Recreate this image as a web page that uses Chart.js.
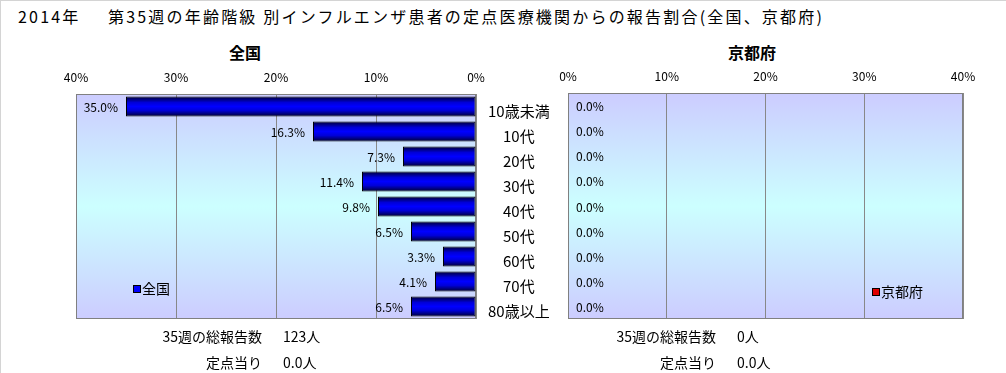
<!DOCTYPE html>
<html lang="ja">
<head>
<meta charset="utf-8">
<script src="https://cdn.jsdelivr.net/npm/chart.js@4/dist/chart.umd.min.js"></script>
<style>
  body { margin: 0; background: #fff; font-family: "Noto Sans CJK JP", sans-serif; color: #000; }
  #page { position: relative; width: 1005px; height: 372px; border-top: 1px solid #d4d4d4; border-left: 1px solid #d4d4d4; overflow: hidden; }
  .abs { position: absolute; white-space: nowrap; }
  .title { font-size: 16px; letter-spacing: 2.2px; top: 3px; }
  .sub { font-size: 16px; font-weight: bold; top: 39px; transform: translateX(-50%); }
  .lbl { font-size: 14px; text-align: right; width: 200px; }
  .val { font-size: 14px; }
  .legend { font-size: 14px; }
  .sq { display: inline-block; width: 6px; height: 6px; border: 1px solid #000; margin-right: 1px; vertical-align: 1px; }
  canvas { position: absolute; }
</style>
</head>
<body>
<div id="page">
  <div class="abs title" style="left:17px">2014年</div>
  <div class="abs title" style="left:107px">第35週の年齢階級 別インフルエンザ患者の定点医療機関からの報告割合(全国、京都府)</div>
  <div class="abs sub" style="left:244px">全国</div>
  <div class="abs sub" style="left:751px">京都府</div>

  <canvas id="chartZenkoku" width="570" height="265" style="left:-1px;top:59px"></canvas>
  <canvas id="chartKyoto" width="526" height="266" style="left:479px;top:58px"></canvas>

  <div class="abs legend" style="left:132px;top:277px"><span class="sq" style="background:#0000ff"></span>全国</div>
  <div class="abs legend" style="left:871px;top:280px"><span class="sq" style="background:#e00000"></span>京都府</div>

  <div class="abs lbl" style="left:61px;top:325px" id="l1a"></div>
  <div class="abs val" style="left:282px;top:325px" id="v1a"></div>
  <div class="abs lbl" style="left:61px;top:351px" id="l1b"></div>
  <div class="abs val" style="left:282px;top:351px" id="v1b"></div>
  <div class="abs lbl" style="left:515px;top:325px" id="l2a"></div>
  <div class="abs val" style="left:736px;top:325px" id="v2a"></div>
  <div class="abs lbl" style="left:515px;top:351px" id="l2b"></div>
  <div class="abs val" style="left:736px;top:351px" id="v2b"></div>
</div>
<script>
// 年齢階級
const ageGroups = ['10歳未満', '10代', '20代', '30代', '40代', '50代', '60代', '70代', '80歳以上'];
// 報告割合 (%)
const zenkokuShare = [35.0, 16.3, 7.3, 11.4, 9.8, 6.5, 3.3, 4.1, 6.5];
const kyotoShare = [0.0, 0.0, 0.0, 0.0, 0.0, 0.0, 0.0, 0.0, 0.0];
// 目盛り (%)
const axisTicks = [0, 10, 20, 30, 40];
// 集計欄
const summaryLabels = ['35週の総報告数', '定点当り'];
const zenkokuSummary = ['123人', '0.0人'];
const kyotoSummary = ['0人', '0.0人'];

Chart.defaults.font.family = '"Noto Sans CJK JP", sans-serif';
Chart.defaults.color = '#000';

document.getElementById('l1a').textContent = summaryLabels[0];
document.getElementById('l1b').textContent = summaryLabels[1];
document.getElementById('l2a').textContent = summaryLabels[0];
document.getElementById('l2b').textContent = summaryLabels[1];
document.getElementById('v1a').textContent = zenkokuSummary[0];
document.getElementById('v1b').textContent = zenkokuSummary[1];
document.getElementById('v2a').textContent = kyotoSummary[0];
document.getElementById('v2b').textContent = kyotoSummary[1];

// 棒の縦グラデーション (上下が暗く中央が明るい)
function barFill(dark, mid, light) {
    return function (context) {
        const chart = context.chart;
        const y = chart.scales.y;
        if (!y || context.type !== 'data') return light;
        const c = y.getPixelForValue(context.dataIndex);
        const half = Math.abs(y.getPixelForValue(1) - y.getPixelForValue(0)) * 0.4;
        if (!isFinite(c) || !isFinite(half) || half === 0) return light;
        const g = chart.ctx.createLinearGradient(0, c - half, 0, c + half);
        g.addColorStop(0, dark);
        g.addColorStop(0.3, mid);
        g.addColorStop(0.5, light);
        g.addColorStop(0.7, mid);
        g.addColorStop(1, dark);
        return g;
    };
}

// プロットエリアの背景と枠
const plotArea = {
    id: 'plotArea',
    beforeDraw(chart) {
        const { ctx, chartArea: a } = chart;
        const g = ctx.createLinearGradient(0, a.top, 0, a.bottom);
        g.addColorStop(0, '#ccccff');
        g.addColorStop(0.5, '#ccffff');
        g.addColorStop(1, '#ccccff');
        ctx.save();
        ctx.fillStyle = g;
        ctx.fillRect(a.left, a.top, a.right - a.left, a.bottom - a.top);
        ctx.restore();
    },
    beforeDatasetsDraw(chart) {
        const { ctx, chartArea: a } = chart;
        ctx.save();
        ctx.strokeStyle = '#808080';
        ctx.lineWidth = 1;
        ctx.strokeRect(Math.round(a.left) + 0.5, Math.round(a.top) + 0.5,
            Math.round(a.right - a.left) - 1, Math.round(a.bottom - a.top) - 1);
        ctx.restore();
    }
};

// 値ラベル
const valueLabels = {
    id: 'valueLabels',
    afterDatasetsDraw(chart) {
        const { ctx } = chart;
        const rev = chart.scales.x.options.reverse;
        const values = chart.data.datasets[0].data;
        ctx.save();
        ctx.font = '12px "Noto Sans CJK JP"';
        ctx.fillStyle = '#000';
        ctx.textBaseline = 'middle';
        ctx.textAlign = rev ? 'right' : 'left';
        chart.getDatasetMeta(0).data.forEach((bar, i) => {
            ctx.fillText(values[i].toFixed(1) + '%', bar.x + (rev ? -8 : 8), bar.y + 1);
        });
        ctx.restore();
    }
};

function makeChart(id, label, data, fill, reverse, padding) {
    return new Chart(document.getElementById(id), {
        type: 'bar',
        data: {
            labels: ageGroups,
            datasets: [{
                label: label,
                data: data,
                backgroundColor: fill,
                borderColor: '#000',
                borderWidth: 1,
                borderSkipped: false,
                barPercentage: 0.8,
                categoryPercentage: 1
            }]
        },
        plugins: [plotArea, valueLabels],
        options: {
            indexAxis: 'y',
            responsive: false,
            animation: false,
            layout: { padding: padding },
            plugins: { legend: { display: false }, tooltip: { enabled: false } },
            scales: {
                x: {
                    position: 'top',
                    reverse: reverse,
                    min: axisTicks[0],
                    max: axisTicks[axisTicks.length - 1],
                    afterBuildTicks: s => { s.ticks = axisTicks.map(v => ({ value: v })); },
                    afterFit: s => { s.height = 34; },
                    grid: { color: '#888', drawTicks: false },
                    border: { display: false },
                    ticks: { padding: 9, font: { size: 12 }, callback: v => v + '%' }
                },
                y: {
                    position: 'right',
                    display: reverse,
                    afterFit: s => {
                        s.width = reverse ? 94 : 0;
                        s.paddingTop = 0;
                        s.paddingBottom = 0;
                    },
                    grid: { display: false },
                    border: { display: false },
                    ticks: { crossAlign: 'center', padding: 4, labelOffset: 5, font: { size: 15 } }
                }
            }
        }
    });
}

makeChart('chartZenkoku', '全国', zenkokuShare,
    barFill('#000030', '#0000d8', '#0000ff'), true, { left: 76, right: 0, top: 0, bottom: 6 });
makeChart('chartKyoto', '京都府', kyotoShare,
    barFill('#300000', '#d80000', '#ff0000'), false, { left: 88, right: 43, top: 0, bottom: 6 });
</script>
</body>
</html>
